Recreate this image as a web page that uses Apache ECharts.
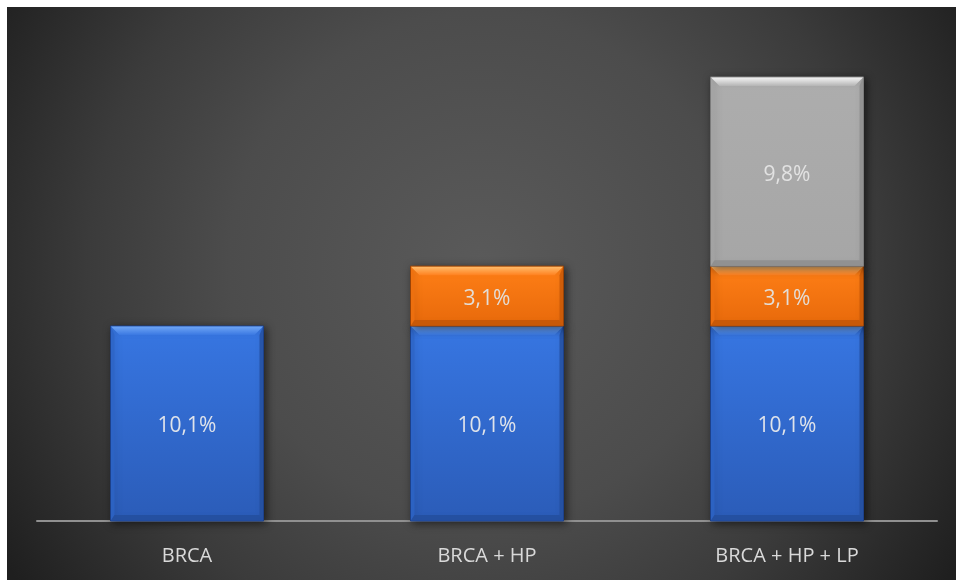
<!DOCTYPE html>
<html>
<head>
<meta charset="utf-8">
<script src="https://cdn.jsdelivr.net/npm/echarts@6/dist/echarts.min.js"></script>
<style>
  html, body { margin: 0; padding: 0; background: #ffffff; }
  #chart { position: absolute; left: 7px; top: 7px; width: 949px; height: 573px; }
</style>
</head>
<body>
<div id="chart"></div>
<script>
// Category names along the x axis
const categories = ['BRCA', 'BRCA + HP', 'BRCA + HP + LP'];
// Percent contribution of each component, stacked bottom to top
const brcaValues = [10.1, 10.1, 10.1];
const hpValues = [null, 3.1, 3.1];
const lpValues = [null, null, 9.8];

const FONT = '"Open Sans", "Liberation Sans", sans-serif';

// Bevelled bar palettes: body top/bottom, top highlight, bottom shade, sides, border
const palettes = {
  blue:   { top: '#3776e2', bottom: '#2b5cb8', hi: '#6fa6f5', hiEnd: '#3a78e2', lo: '#244f9e', side: '#2d64c6', border: '#1d418a', label: '#dfe3ea' },
  orange: { top: '#ff7f16', bottom: '#e7690b', hi: '#ffbb6a', hiEnd: '#ff8220', lo: '#c55807', side: '#ef700f', border: '#9a4306', label: '#e3ddd6' },
  gray:   { top: '#adadad', bottom: '#a6a6a6', hi: '#f4f4f4', hiEnd: '#b4b4b4', lo: '#8f8f8f', side: '#a4a4a4', border: '#7c7c7c', label: '#e2e2e2' }
};

function fmt(v) {
  return v.toFixed(1).replace('.', ',') + '%';
}

// Build [categoryIndex, lower, upper, value] segments for one stacked layer
function segments(values, below) {
  const out = [];
  values.forEach(function (v, i) {
    if (v == null) return;
    let base = 0;
    below.forEach(function (arr) { if (arr[i] != null) base += arr[i]; });
    out.push([i, base, base + v, v]);
  });
  return out;
}

function bevelRenderer(pal) {
  return function (params, api) {
    const idx = api.value(0);
    const lo = api.value(1);
    const hi = api.value(2);
    const val = api.value(3);
    const pLo = api.coord([idx, lo]);
    const pHi = api.coord([idx, hi]);
    const w = api.size([1, 0])[0] * 0.51;
    const L = pLo[0] - w / 2, R = pLo[0] + w / 2;
    const T = pHi[1], B = pLo[1];
    const h = B - T;
    const bt = 9, bs = 4, bb = 6;
    return {
      type: 'group',
      children: [
        {
          type: 'rect',
          shape: { x: L, y: T, width: w, height: h },
          style: {
            fill: new echarts.graphic.LinearGradient(0, 0, 0, 1, [
              { offset: 0, color: pal.top }, { offset: 1, color: pal.bottom }
            ]),
            stroke: pal.border, lineWidth: 1,
            shadowBlur: 8, shadowOffsetX: 2, shadowOffsetY: 2, shadowColor: 'rgba(0,0,0,0.55)'
          }
        },
        {
          type: 'polygon',
          shape: { points: [[L + 0.5, T + 0.5], [R - 0.5, T + 0.5], [R - bt, T + bt], [L + bt, T + bt]] },
          style: {
            fill: new echarts.graphic.LinearGradient(0, 0, 0, 1, [
              { offset: 0, color: pal.hi }, { offset: 1, color: pal.hiEnd }
            ])
          }
        },
        {
          type: 'polygon',
          shape: { points: [[L + 0.5, T + 0.5], [L + bs, T + bt], [L + bs, B - bb], [L + 0.5, B - 0.5]] },
          style: { fill: pal.side, opacity: 0.8 }
        },
        {
          type: 'polygon',
          shape: { points: [[R - 0.5, T + 0.5], [R - bs, T + bt], [R - bs, B - bb], [R - 0.5, B - 0.5]] },
          style: { fill: pal.lo, opacity: 0.8 }
        },
        {
          type: 'polygon',
          shape: { points: [[L + 0.5, B - 0.5], [R - 0.5, B - 0.5], [R - bs, B - bb], [L + bs, B - bb]] },
          style: { fill: pal.lo, opacity: 0.9 }
        },
        {
          type: 'text',
          style: {
            x: pLo[0], y: T + h / 2 + 3,
            text: fmt(val),
            fill: pal.label,
            font: '21px ' + FONT,
            align: 'center', verticalAlign: 'middle'
          }
        }
      ]
    };
  };
}

const chart = echarts.init(document.getElementById('chart'));
chart.setOption({
  backgroundColor: {
    type: 'radial', x: 0.5, y: 0.45, r: 0.98,
    colorStops: [
      { offset: 0, color: '#5a5a5a' },
      { offset: 0.45, color: '#4c4c4c' },
      { offset: 0.7, color: '#3b3b3b' },
      { offset: 1, color: '#1f1f1f' }
    ]
  },
  animation: false,
  grid: { left: 30, right: 19, top: 12, bottom: 59 },
  xAxis: {
    type: 'category',
    data: categories,
    axisLine: { lineStyle: { color: '#909090', width: 2 } },
    axisTick: { show: false },
    axisLabel: { color: '#d9d9d9', fontSize: 20, fontFamily: FONT, margin: 25 }
  },
  yAxis: { type: 'value', min: 0, max: 26, show: false, splitLine: { show: false } },
  series: [
    { type: 'custom', name: 'BRCA', renderItem: bevelRenderer(palettes.blue), data: segments(brcaValues, []), encode: { x: 0, y: [1, 2] } },
    { type: 'custom', name: 'HP', renderItem: bevelRenderer(palettes.orange), data: segments(hpValues, [brcaValues]), encode: { x: 0, y: [1, 2] } },
    { type: 'custom', name: 'LP', renderItem: bevelRenderer(palettes.gray), data: segments(lpValues, [brcaValues, hpValues]), encode: { x: 0, y: [1, 2] } }
  ]
});
</script>
</body>
</html>
